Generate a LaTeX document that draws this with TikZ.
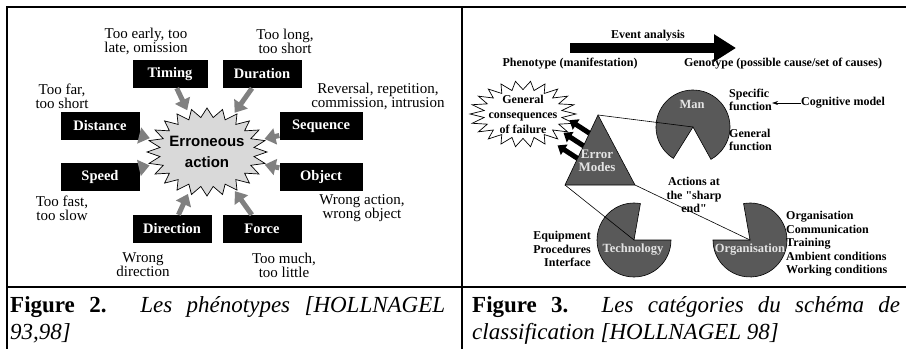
\documentclass[tikz,border=0pt]{standalone}
\usepackage{fontspec}
\setmainfont[Ligatures=TeXOff]{Liberation Serif}
\newfontfamily\sansfont{Liberation Sans}
\usetikzlibrary{arrows.meta, calc, positioning, shapes.geometric}

\definecolor{arrowgray}{RGB}{128,128,128}
\definecolor{stargray}{RGB}{217,217,217}
\definecolor{piegray}{RGB}{89,89,89}
\definecolor{labelgray}{RGB}{228,228,228}

\tikzset{
  blackbox/.style={fill=black, text=white, font=\fontsize{14.5}{15}\selectfont\bfseries, minimum height=28pt, inner sep=0pt},
  phenotext/.style={align=center, font=\fontsize{15}{14}\selectfont, inner sep=0pt},
  grayarrow/.style={draw=arrowgray, line width=5pt, -{Triangle[length=11pt,width=16pt]}},
  genotext/.style={font=\fontsize{12}{13.5}\selectfont\bfseries, inner sep=0pt},
  pielabel/.style={font=\fontsize{12.5}{13}\selectfont\bfseries, text=labelgray, inner sep=0pt},
  piece/.style={fill=piegray, draw=black, line width=0.6pt},
  tablerule/.style={line width=2pt},
  captext/.style={text width=#1, align=justify, inner sep=0pt, font=\fontsize{23}{27}\selectfont},
}

% etoile : centre, demi-axes a et b, rapport interieur, nb de sommets, style
\newcommand{\drawburst}[6]{%
  \pgfmathtruncatemacro{\lastpt}{2*#5-1}
  \pgfmathtruncatemacro{\nbpts}{2*#5}
  \draw[#6, shift={(#1)}] plot[domain=0:\lastpt, samples=\nbpts]
    ({#2*(1-(1-#4)*mod(round(\x),2))*cos(\x*180/#5)},
     {#3*(1-(1-#4)*mod(round(\x),2))*sin(\x*180/#5)}) -- cycle;
}

\begin{document}
\begin{tikzpicture}[x=1pt, y=-1pt]
  \useasboundingbox (0,0) rectangle (906,349);

  % Tableau
  \draw[tablerule] (6,7) -- (906,7);
  \draw[tablerule] (7,7) -- (7,349);
  \draw[tablerule] (462,7) -- (462,349);
  \draw[tablerule] (7,287) -- (906,287);

  % ---- Figure 2 : phenotypes ----
  \node[ellipse, minimum width=120pt, minimum height=88pt, inner sep=0pt] (err) at (207,152) {};
  \drawburst{err}{60}{44}{0.79}{24}{fill=stargray, line width=0.7pt}
  \node[align=center, font=\sansfont\fontsize{15}{21}\selectfont\bfseries] (errtext) at (err) {Erroneous\\action};

  \foreach \name/\txt/\x/\y/\w in {timing/Timing/170/74/75, duration/Duration/262/74/79,
      distance/Distance/100/126/79, sequence/Sequence/321/126/83,
      speed/Speed/100/177/79, object/Object/321/177/83,
      direction/Direction/172/229/79, force/Force/262/229/79} {
    \node[blackbox, minimum width=\w pt] (\name) at (\x,\y) {\txt};
    \draw[grayarrow] (\name) -- (err);
  }

  \node[phenotext] (timinglbl) at (146,41) {Too early, too\\late, omission};
  \node[phenotext] (durationlbl) at (285,41) {Too long,\\too short};
  \node[phenotext] (distancelbl) at (62,96) {Too far,\\too short};
  \node[phenotext] (sequencelbl) at (378,96) {Reversal, repetition,\\commission, intrusion};
  \node[phenotext] (speedlbl) at (62,208) {Too fast,\\too slow};
  \node[phenotext] (objectlbl) at (362,208) {Wrong action,\\wrong object};
  \node[phenotext] (directionlbl) at (143,265) {Wrong\\direction};
  \node[phenotext] (forcelbl) at (284,265) {Too much,\\too little};

  % ---- Figure 3 : genotypes ----
  \node[genotext] (event) at (648,36) {Event analysis};
  \coordinate (evstart) at (570,48);
  \coordinate (evend) at (736,48);
  \draw[line width=10pt, -{Triangle[length=22pt,width=26pt]}] (evstart) -- (evend);
  \node[genotext] (pheno) at (570,64) {Phenotype (manifestation)};
  \node[genotext] (geno) at (783,64) {Genotype (possible cause/set of causes)};

  % Consequences
  \node[inner sep=0pt] (gcf) at (523,114) {};
  \drawburst{gcf}{53}{33}{0.74}{22}{fill=white, line width=0.7pt}
  \node[genotext, align=center, font=\fontsize{12}{15}\selectfont\bfseries] (gcftext) at (gcf) {General\\consequences\\of failure};

  % Triangle des modes d'erreur
  \coordinate (emtop) at (598,115);
  \coordinate (emleft) at (565,185);
  \coordinate (emright) at (635,185);
  \draw[piece] (emtop) -- (emleft) -- (emright) -- cycle;
  \node[pielabel, align=center, font=\fontsize{13}{13}\selectfont\bfseries] (errmodes) at (597,161) {Error\\Modes};
  \foreach \t in {0.26, 0.44, 0.62}
    \draw[line width=5pt, -{Triangle[length=8pt,width=12pt]}]
      ($(emtop)!\t!(emleft)$) -- ++(-20,-13);

  % Camemberts
  \coordinate (man) at (693,127);
  \coordinate (tech) at (634,240);
  \coordinate (orga) at (750,240);
  \draw[piece] (man) -- ++(122:37) arc[start angle=122, end angle=421, radius=37] -- cycle;
  \draw[piece] (tech) -- ++(0:37) arc[start angle=0, end angle=280, radius=37] -- cycle;
  \draw[piece] (orga) -- ++(260:37) arc[start angle=260, end angle=540, radius=37] -- cycle;
  \draw[line width=0.6pt] (emtop) -- (man);
  \draw[line width=0.6pt] (emleft) -- (tech);
  \draw[line width=0.6pt] (emright) -- (orga);

  \node[pielabel] (manlbl) at (692,104) {Man};
  \node[pielabel] (techlbl) at (633,250) {Technology};
  \node[pielabel] (orgalbl) at (750,250) {Organisation};

  \node[genotext, align=left, anchor=west] (specfn) at (729,100) {Specific\\function};
  \node[genotext, align=left, anchor=west] (genfn) at (729,140) {General\\function};
  \node[genotext, anchor=west] (cogmodel) at (801,103) {Cognitive model};
  \draw[line width=0.6pt, -{Stealth[length=6pt,width=4pt]}] (cogmodel.west) -- (cogmodel.west -| specfn.east);

  \node[genotext, align=center] (sharpend) at (694,195) {Actions at\\the "sharp\\end"};
  \node[genotext, align=right, anchor=east] (techlist) at (591,249) {Equipment\\Procedures\\Interface};
  \node[genotext, align=left, anchor=west] (orglist) at (786,244) {Organisation\\Communication\\Training\\Ambient conditions\\Working conditions};

  % Legendes
  \node[captext=435pt, anchor=north west] (cap2) at (10,296)
    {\textbf{Figure 2.} \textit{Les phénotypes [HOLLNAGEL}\linebreak\textit{93,98]}};
  \node[captext=428pt, anchor=north west] (cap3) at (472,296)
    {\textbf{Figure 3.} \textit{Les catégories du schéma de}\linebreak\textit{classification [HOLLNAGEL 98]}};
\end{tikzpicture}
\end{document}
